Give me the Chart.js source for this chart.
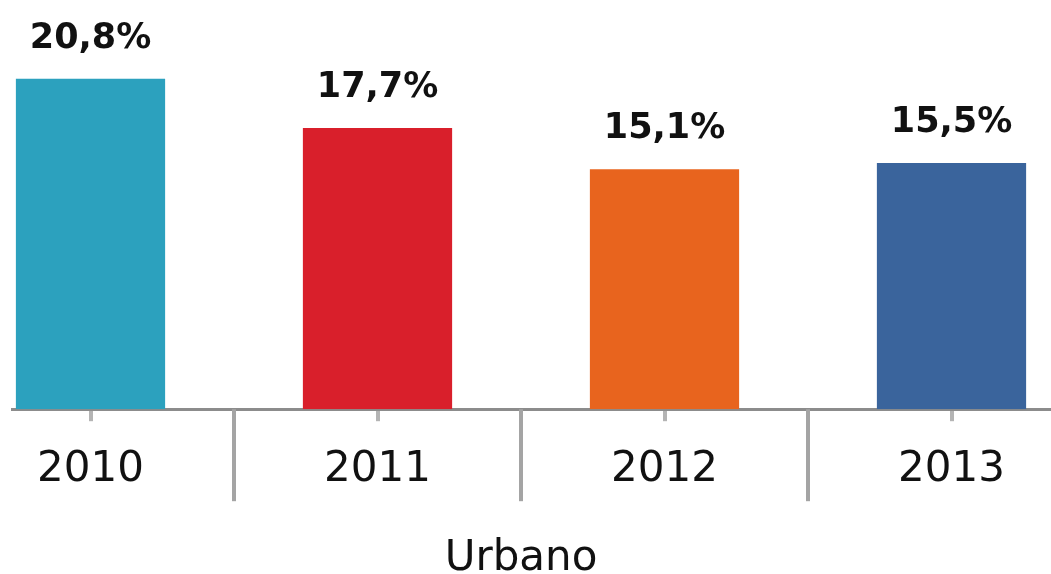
<!DOCTYPE html>
<html lang="es">
<head>
  <meta charset="UTF-8" />
  <title>Urbano</title>
  <script src="https://cdn.jsdelivr.net/npm/chart.js"></script>
  <style>
    body {
      margin: 0;
      background: #fff;
      overflow: hidden;
    }
    .clip {
      position: absolute;
      left: 11px;
      top: 0;
      width: 1040px;
      height: 574px;
      overflow: hidden;
    }
    .inner {
      position: absolute;
      left: -64px;
      top: 0;
      width: 1148px;
      height: 584px;
    }
  </style>
</head>
<body>
  <div class="clip">
    <div class="inner">
      <canvas id="chart"></canvas>
    </div>
  </div>

  <script>
    // valores del gráfico
    const years = ['2010', '2011', '2012', '2013'];
    const values = [20.8, 17.7, 15.1, 15.5];
    const barColors = ['#2ca1be', '#d91f2b', '#e8641e', '#3a649c'];
    const axisTitle = 'Urbano';

    // etiquetas encima de cada barra
    const valueLabels = {
      id: 'valueLabels',
      afterDatasetsDraw(chart) {
        const ctx = chart.ctx;
        const meta = chart.getDatasetMeta(0);
        ctx.save();
        ctx.font = 'bold 35px "DejaVu Sans"';
        ctx.fillStyle = '#111';
        ctx.textAlign = 'center';
        ctx.textBaseline = 'alphabetic';
        meta.data.forEach((bar, i) => {
          const txt = values[i].toFixed(1).replace('.', ',') + '%';
          ctx.fillText(txt, bar.x, bar.y - 31);
        });
        ctx.restore();
      }
    };

    // líneas separadoras entre categorías
    const separators = {
      id: 'separators',
      afterDraw(chart) {
        const ctx = chart.ctx;
        const x = chart.scales.x;
        const bottom = chart.chartArea.bottom;
        ctx.save();
        ctx.strokeStyle = '#a4a4a4';
        ctx.lineWidth = 4;
        for (let i = 0; i < years.length - 1; i++) {
          const px = (x.getPixelForValue(i) + x.getPixelForValue(i + 1)) / 2;
          ctx.beginPath();
          ctx.moveTo(px, bottom);
          ctx.lineTo(px, bottom + 92);
          ctx.stroke();
        }
        ctx.restore();
      }
    };

    new Chart(document.getElementById('chart'), {
      type: 'bar',
      data: {
        labels: years,
        datasets: [{
          data: values,
          backgroundColor: barColors,
          barPercentage: 1,
          categoryPercentage: 0.52
        }]
      },
      options: {
        responsive: true,
        maintainAspectRatio: false,
        animation: false,
        layout: { padding: { top: 12, left: 0, right: 0, bottom: 0 } },
        plugins: {
          legend: { display: false },
          tooltip: { enabled: false }
        },
        scales: {
          x: {
            border: { display: true, color: '#8c8c8c', width: 3 },
            grid: {
              offset: false,
              drawOnChartArea: false,
              tickLength: 12,
              color: '#b4b4b4',
              lineWidth: 4
            },
            ticks: {
              color: '#111',
              padding: 24,
              font: { family: 'DejaVu Sans', size: 42 }
            },
            title: {
              display: true,
              text: axisTitle,
              color: '#111',
              padding: { top: 14, bottom: 0 },
              font: { family: 'DejaVu Sans', size: 42 }
            }
          },
          y: {
            display: false,
            min: 0,
            max: 25
          }
        }
      },
      plugins: [valueLabels, separators]
    });
  </script>
</body>
</html>
